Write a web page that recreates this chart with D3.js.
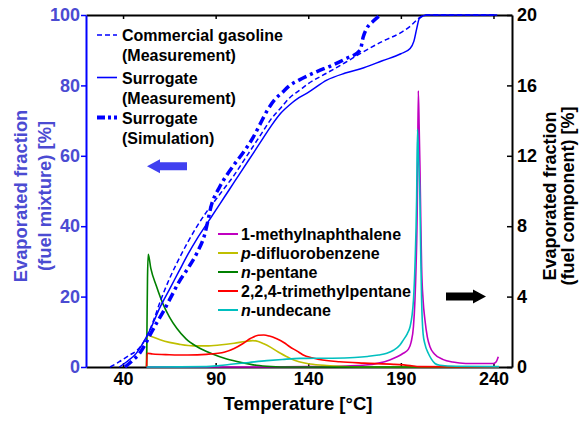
<!DOCTYPE html>
<meta charset="utf-8">
<style>
	body { margin: 0; background: #fff; }
	text {
		font-family: "Liberation Sans", Arial, sans-serif;
		font-weight: bold;
	}
	.line { fill: none; }
</style>
<body>
<div id="chart"></div>
<script src="https://d3js.org/d3.v7.min.js"></script>
<script>
	// evaporated fraction of the fuel mixture [%] vs temperature [°C]
	var gasoline_meas = [[33,0],[38,1.5],[43,3.2],[48,5],[51,7],[54,10],[57,14],[60,18.5],[65,25],[70,30.5],[75,35.5],[80,40],[85,44],[90,47.5],[95,51],[100,54.5],[105,58.5],[110,62.5],[115,66.5],[120,70.5],[125,73.5],[130,76.5],[135,78.5],[140,80.5],[150,83.5],[160,86.5],[168,89],[180,92.5],[190,95],[195,96.8],[198,98.3],[201,99.6],[204,100],[242,100]];
	var surrogate_meas = [[38,0],[42,1.5],[47,3.8],[51,7],[55,11],[60,17],[65,22],[70,27],[75,32],[80,36.5],[85,40.5],[90,44.5],[95,48.5],[100,52.5],[105,56.5],[110,60.5],[115,64.5],[120,68.5],[125,72],[130,74.5],[135,76.5],[140,78],[150,81.5],[160,83.5],[170,85],[180,87],[190,89],[195,90.5],[197,92.5],[198.5,96],[200,99],[204,100],[242,100]];
	var surrogate_sim = [[41,0],[45,1.8],[49,3.9],[52,6.5],[55,9.5],[58,12.4],[62,16],[66,20],[70,24],[75,28],[80,32.5],[84,37.5],[88,46.5],[92,51],[96,54.5],[100,57.5],[105,61],[110,65],[114,69],[118,73],[122,76],[126,78],[130,80],[135,81.5],[145,84],[152,85.5],[160,87.5],[168,90],[169.7,93.8],[171.6,96.2],[175,98.2],[179,100]];

	// evaporated fraction of each fuel component [%] vs temperature [°C]
	var methylnaphthalene = [[52.7,0],[100,0],[140,0.02],[160,0.06],[171,0.11],[178,0.22],[184,0.4],[188,0.58],[191.3,0.78],[194,1.0],[195.5,1.4],[196.8,2.3],[197.6,3.8],[198.2,5.7],[198.9,9.5],[199.4,15.7],[199.9,13.5],[200.3,11.4],[200.8,8],[201.2,5.7],[202,3.8],[203,2.67],[204.3,1.7],[205.7,1.15],[208,0.75],[212.9,0.42],[218,0.28],[225,0.2],[240,0.2],[241.5,0.3],[242.6,0.58]];
	var difluorobenzene = [[52.7,0],[52.8,1.82],[55,1.75],[60,1.55],[65,1.4],[70,1.3],[78,1.2],[85,1.2],[92,1.25],[100,1.35],[106,1.45],[110,1.5],[113,1.45],[116,1.32],[120,1.1],[125,0.78],[130,0.5],[135,0.3],[141,0.17],[150,0.08],[160,0.03],[175,0],[243,0]];
	var pentane = [[52.7,0],[52.9,2],[53.2,5],[53.6,6.4],[55,5.6],[58,4.6],[61.5,3.6],[65,2.85],[69,2.2],[74,1.6],[80,1.15],[88,0.75],[96,0.45],[104,0.25],[112,0.1],[120,0.03],[130,0],[243,0]];
	var trimethylpentane = [[52.7,0],[53,0.78],[56,0.74],[65,0.7],[75,0.68],[85,0.72],[95,0.85],[100,1.05],[105,1.35],[109,1.63],[113,1.8],[116,1.82],[119,1.76],[123,1.6],[127,1.38],[130,1.15],[134,0.9],[137,0.7],[142,0.52],[146,0.43],[157,0.3],[170,0.22],[186,0.15],[195,0.08],[200,0.02],[243,0]];
	var undecane = [[52.7,0],[85,0.02],[92,0.08],[99.5,0.17],[108,0.26],[117.6,0.36],[126,0.43],[135.5,0.49],[153,0.5],[165,0.54],[172,0.6],[178,0.68],[182.4,0.78],[186,0.95],[189.5,1.25],[191.3,1.53],[193.5,1.9],[195,2.3],[196,2.9],[196.8,3.8],[197.6,5.7],[198.5,9.5],[199,13.5],[199.5,12],[200.3,9.5],[200.8,6],[201.2,3.8],[202,1.9],[203,1.3],[204.8,0.78],[206.5,0.45],[208.4,0.2],[211,0.1],[220,0.04],[243,0.02]];

	var mixture_labels = [["Commercial gasoline", "(Measurement)"], ["Surrogate", "(Measurement)"], ["Surrogate", "(Simulation)"]];
	var component_labels = [["", "1-methylnaphthalene"], ["p", "-difluorobenzene"], ["n", "-pentane"], ["", "2,2,4-trimethylpentane"], ["n", "-undecane"]];
	var x_ticks = [40, 90, 140, 190, 240];
	var left_ticks = [0, 20, 40, 60, 80, 100];
	var right_ticks = [0, 4, 8, 12, 16, 20];

	var mixture_series = [
		{data: gasoline_meas, width: 1.5, dash: "5,3"},
		{data: surrogate_meas, width: 1.5, dash: null},
		{data: surrogate_sim, width: 3.5, dash: "9,4,3,4"}
	];
	var component_series = [
		{data: methylnaphthalene, color: "#c000c0"},
		{data: difluorobenzene, color: "#bfbf00"},
		{data: pentane, color: "#008000"},
		{data: trimethylpentane, color: "#ff0000"},
		{data: undecane, color: "#00bfbf"}
	];

	var blue_text = "#4b4bd2";
	var margin = {top: 15, right: 68, bottom: 54, left: 86},
		width = 580 - margin.left - margin.right,
		height = 421 - margin.top - margin.bottom;

	var x = d3.scaleLinear().domain([20, 250]).range([0, width]);
	var yl = d3.scaleLinear().domain([0, 100]).range([height, 0]);
	var yr = d3.scaleLinear().domain([0, 20]).range([height, 0]);

	var svg = d3.select("#chart").append("svg")
		.attr("width", 580)
		.attr("height", 421)
		.append("g")
		.attr("transform", "translate(" + margin.left + "," + margin.top + ")");

	// axes
	var bottom = svg.append("g")
		.attr("transform", "translate(0," + height + ")")
		.call(d3.axisBottom(x).tickValues(x_ticks).tickSizeInner(-4).tickSizeOuter(0).tickPadding(5));
	var top_axis = svg.append("g")
		.call(d3.axisTop(x).tickValues(x_ticks).tickSizeInner(-4).tickSizeOuter(0).tickFormat(""));
	var left = svg.append("g")
		.call(d3.axisLeft(yl).tickValues(left_ticks).tickSizeInner(5).tickSizeOuter(0).tickPadding(1));
	var right = svg.append("g")
		.attr("transform", "translate(" + width + ",0)")
		.call(d3.axisRight(yr).tickValues(right_ticks).tickSizeInner(-5).tickSizeOuter(0).tickPadding(5));

	[bottom, top_axis, right].forEach(function (a) {
		a.select(".domain").attr("stroke", "#000").attr("stroke-width", 2);
		a.selectAll(".tick line").attr("stroke", "#000").attr("stroke-width", 1.5);
		a.selectAll(".tick text").attr("fill", "#000").style("font-size", "18px");
	});
	left.select(".domain").attr("stroke", "#0000ff").attr("stroke-width", 2);
	left.selectAll(".tick line").attr("stroke", "#0000ff").attr("stroke-width", 1.5);
	left.selectAll(".tick text").attr("fill", blue_text).style("font-size", "18px");

	// axis titles
	svg.append("text")
		.attr("x", width / 2 - 1)
		.attr("y", height + 43)
		.attr("text-anchor", "middle")
		.style("font-size", "18.5px")
		.text("Temperature [°C]");

	var lt = svg.append("text")
		.attr("transform", "translate(-59," + (height / 2 + 5) + ") rotate(-90)")
		.attr("text-anchor", "middle")
		.attr("fill", blue_text)
		.style("font-size", "18.4px");
	lt.append("tspan").attr("x", 0).attr("dy", 0).text("Evaporated fraction");
	lt.append("tspan").attr("x", 0).attr("dy", 23.5).text("(fuel mixture) [%]");

	var rt = svg.append("text")
		.attr("transform", "translate(" + (width + 44) + "," + (height / 2 + 5) + ") rotate(-90)")
		.attr("text-anchor", "middle")
		.attr("fill", "#000")
		.style("font-size", "18px");
	rt.append("tspan").attr("x", 0).attr("dy", 0).text("Evaporated fraction");
	rt.append("tspan").attr("x", 0).attr("dy", 18).text("(fuel component) [%]");

	// component curves (right axis)
	var comp_line = d3.line()
		.x(function (d) { return x(d[0]); })
		.y(function (d) { return yr(d[1]); })
		.curve(d3.curveMonotoneX);
	component_series.forEach(function (s) {
		svg.append("path")
			.datum(s.data)
			.attr("class", "line")
			.attr("stroke", s.color)
			.attr("stroke-width", 1.6)
			.attr("d", comp_line);
	});

	// mixture curves (left axis)
	var mix_line = d3.line()
		.x(function (d) { return x(d[0]); })
		.y(function (d) { return yl(d[1]); })
		.curve(d3.curveMonotoneX);
	mixture_series.forEach(function (s) {
		svg.append("path")
			.datum(s.data)
			.attr("class", "line")
			.attr("stroke", "#0000ff")
			.attr("stroke-width", s.width)
			.attr("stroke-dasharray", s.dash)
			.attr("d", mix_line);
	});

	// legend for the mixture
	var leg1 = svg.append("g").attr("transform", "translate(11,20)");
	mixture_series.forEach(function (s, i) {
		var gy = [0, 42.5, 82.5][i];
		leg1.append("line")
			.attr("x1", 0).attr("x2", 20)
			.attr("y1", gy).attr("y2", gy)
			.attr("stroke", "#0000ff")
			.attr("stroke-width", i == 2 ? 4 : 1.6)
			.attr("stroke-dasharray", i == 2 ? "8,3,3,3" : s.dash);
		leg1.append("text")
			.attr("x", 25).attr("y", gy + 6)
			.style("font-size", "16px")
			.text(mixture_labels[i][0]);
		leg1.append("text")
			.attr("x", 25).attr("y", gy + 26)
			.style("font-size", "16px")
			.text(mixture_labels[i][1]);
	});

	// legend for the components
	var leg2 = svg.append("g").attr("transform", "translate(132,219)");
	component_series.forEach(function (s, i) {
		var gy = i * 19;
		leg2.append("line")
			.attr("x1", 0).attr("x2", 20)
			.attr("y1", gy).attr("y2", gy)
			.attr("stroke", s.color)
			.attr("stroke-width", 2);
		var t = leg2.append("text")
			.attr("x", 23).attr("y", gy + 6)
			.style("font-size", "16px");
		if (component_labels[i][0])
			t.append("tspan").style("font-style", "italic").text(component_labels[i][0]);
		t.append("tspan").text(component_labels[i][1]);
	});

	// arrows pointing to the axis each group belongs to
	var arrow = "M0,0 L13,-7 L13,-4 L40,-4 L40,4 L13,4 L13,7 Z";
	svg.append("path")
		.attr("d", arrow)
		.attr("fill", "#4040f0")
		.attr("transform", "translate(61," + yl(57) + ")");
	svg.append("path")
		.attr("d", arrow)
		.attr("fill", "#000")
		.attr("transform", "translate(400," + yr(4) + ") scale(-1,1)");
</script>
</body>
